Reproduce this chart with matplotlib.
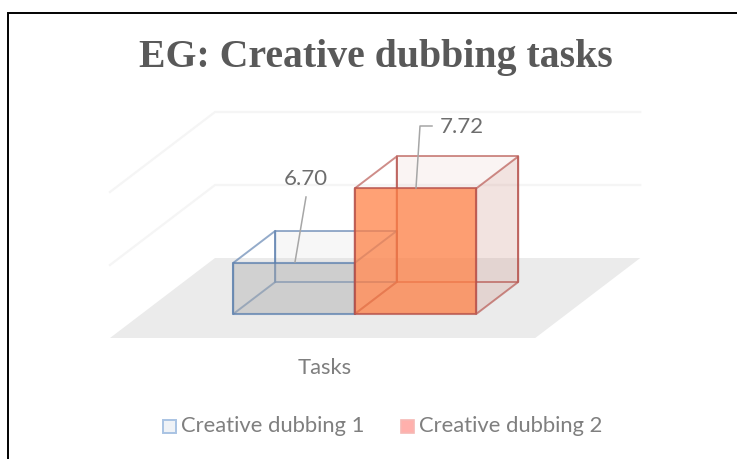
import matplotlib
matplotlib.use("Agg")
import matplotlib.pyplot as plt
from matplotlib.patches import Polygon, Rectangle

title = "EG: Creative dubbing tasks"
axis_label = "Tasks"
series = ["Creative dubbing 1", "Creative dubbing 2"]
values = [6.70, 7.72]
gridlines = [7, 8]
val_min = 6

W, H = 737, 459
fig = plt.figure(figsize=(W/100, H/100), dpi=100)
ax = fig.add_axes([0, 0, 1, 1])
ax.set_xlim(0, W); ax.set_ylim(H, 0); ax.axis("off")

# oblique projection of (category position, value, depth) to canvas
X0, Y0, UX, UV, DX, DY = 110, 338, 121.5, 73, 105, 80
def P(c, v, d):
    return (X0 + UX*c + DX*d, Y0 - DY*d - UV*(v - val_min))

def face(pts, fc=None, ec=None, lw=1.6, alpha=None, z=2):
    ax.add_patch(Polygon(pts, closed=True, fc=fc if fc else "none", ec=ec if ec else "none",
                         lw=lw, alpha=alpha, zorder=z, joinstyle="round"))

# frame: open on the right and at the bottom
ax.plot([8.5, 8.5, 737], [459, 13, 13], color="black", lw=1.4, zorder=10, solid_joinstyle="miter")

# floor & walls
CMAX = 3.5
face([P(0, val_min, 0), P(CMAX, val_min, 0), P(CMAX, val_min, 1), P(0, val_min, 1)], fc="#EBEBEB", z=1)
for g in gridlines:
    ax.plot(*zip(P(0, g, 0), P(0, g, 1), P(CMAX, g, 1)), color="#F5F5F5", lw=1.6, zorder=1)

def box(c0, c1, v, fill_front, fill_side, fill_top, edge, edge_a):
    d0, d1 = 0.3, 0.7
    b = val_min
    z = 2 + c0
    face([P(c0,b,d0),P(c1,b,d0),P(c1,b,d1),P(c0,b,d1)], fc=fill_top, z=z)
    face([P(c0,b,d1),P(c1,b,d1),P(c1,v,d1),P(c0,v,d1)], fc=fill_top, z=z)
    face([P(c1,b,d0),P(c1,b,d1),P(c1,v,d1),P(c1,v,d0)], fc=fill_side, z=z)
    for pts in ([P(c0,b,d1),P(c1,b,d1),P(c1,v,d1),P(c0,v,d1)],
                [P(c0,b,d0),P(c0,b,d1),P(c0,v,d1),P(c0,v,d0)],
                [P(c1,b,d0),P(c1,b,d1),P(c1,v,d1),P(c1,v,d0)]):
        face(pts, ec=edge, lw=1.4, alpha=edge_a, z=z+0.1)
    face([P(c0,b,d0),P(c1,b,d0),P(c1,v,d0),P(c0,v,d0)], fc=fill_front, z=z+0.2)
    face([P(c0,b,d0),P(c1,b,d0),P(c1,v,d0),P(c0,v,d0)], ec=edge, lw=1.5, alpha=edge_a+0.1, z=z+0.3)

box(0.755, 1.755, values[0], (0.68,0.68,0.68,0.42), (0.9,0.9,0.9,0.2), (0.8,0.8,0.8,0.14), "#5B7FAE", 0.65)
box(1.755, 2.755, values[1], (1.0,0.50,0.27,0.74), (0.80,0.55,0.50,0.16), (0.80,0.55,0.50,0.09), "#B5504A", 0.65)

# data labels with leader lines
TXT = "#7F7F7F"
FONT = "Lato"
ax.plot([295, 306], [262, 197], color="#A6A6A6", lw=1.1, zorder=8)
ax.text(306, 179, f"{values[0]:.2f}", ha="center", va="center", fontsize=16, color="#6E6E6E", family=FONT, zorder=9)
ax.plot([416, 420, 432], [188, 126, 126], color="#A6A6A6", lw=1.1, zorder=8)
ax.text(462, 127, f"{values[1]:.2f}", ha="center", va="center", fontsize=16, color="#6E6E6E", family=FONT, zorder=9)

ax.text(376, 57, title, ha="center", va="center", fontsize=28.6, fontweight="bold",
        family="Liberation Serif", color="#595959")
ax.text(325, 368, axis_label, ha="center", va="center", fontsize=15.8, color=TXT, family=FONT)

# legend
ax.add_patch(Rectangle((163, 420), 13, 13, fc="#EFF2F6", ec="#A9C3E3", lw=1.4))
ax.text(181, 425.5, series[0], ha="left", va="center", fontsize=15.8, color=TXT, family=FONT)
ax.add_patch(Rectangle((401, 420), 13, 13, fc="#FFB0AC", ec="#F6B8B4", lw=1.2))
ax.text(419, 425.5, series[1], ha="left", va="center", fontsize=15.8, color=TXT, family=FONT)

fig.savefig("out.png", dpi=100)
